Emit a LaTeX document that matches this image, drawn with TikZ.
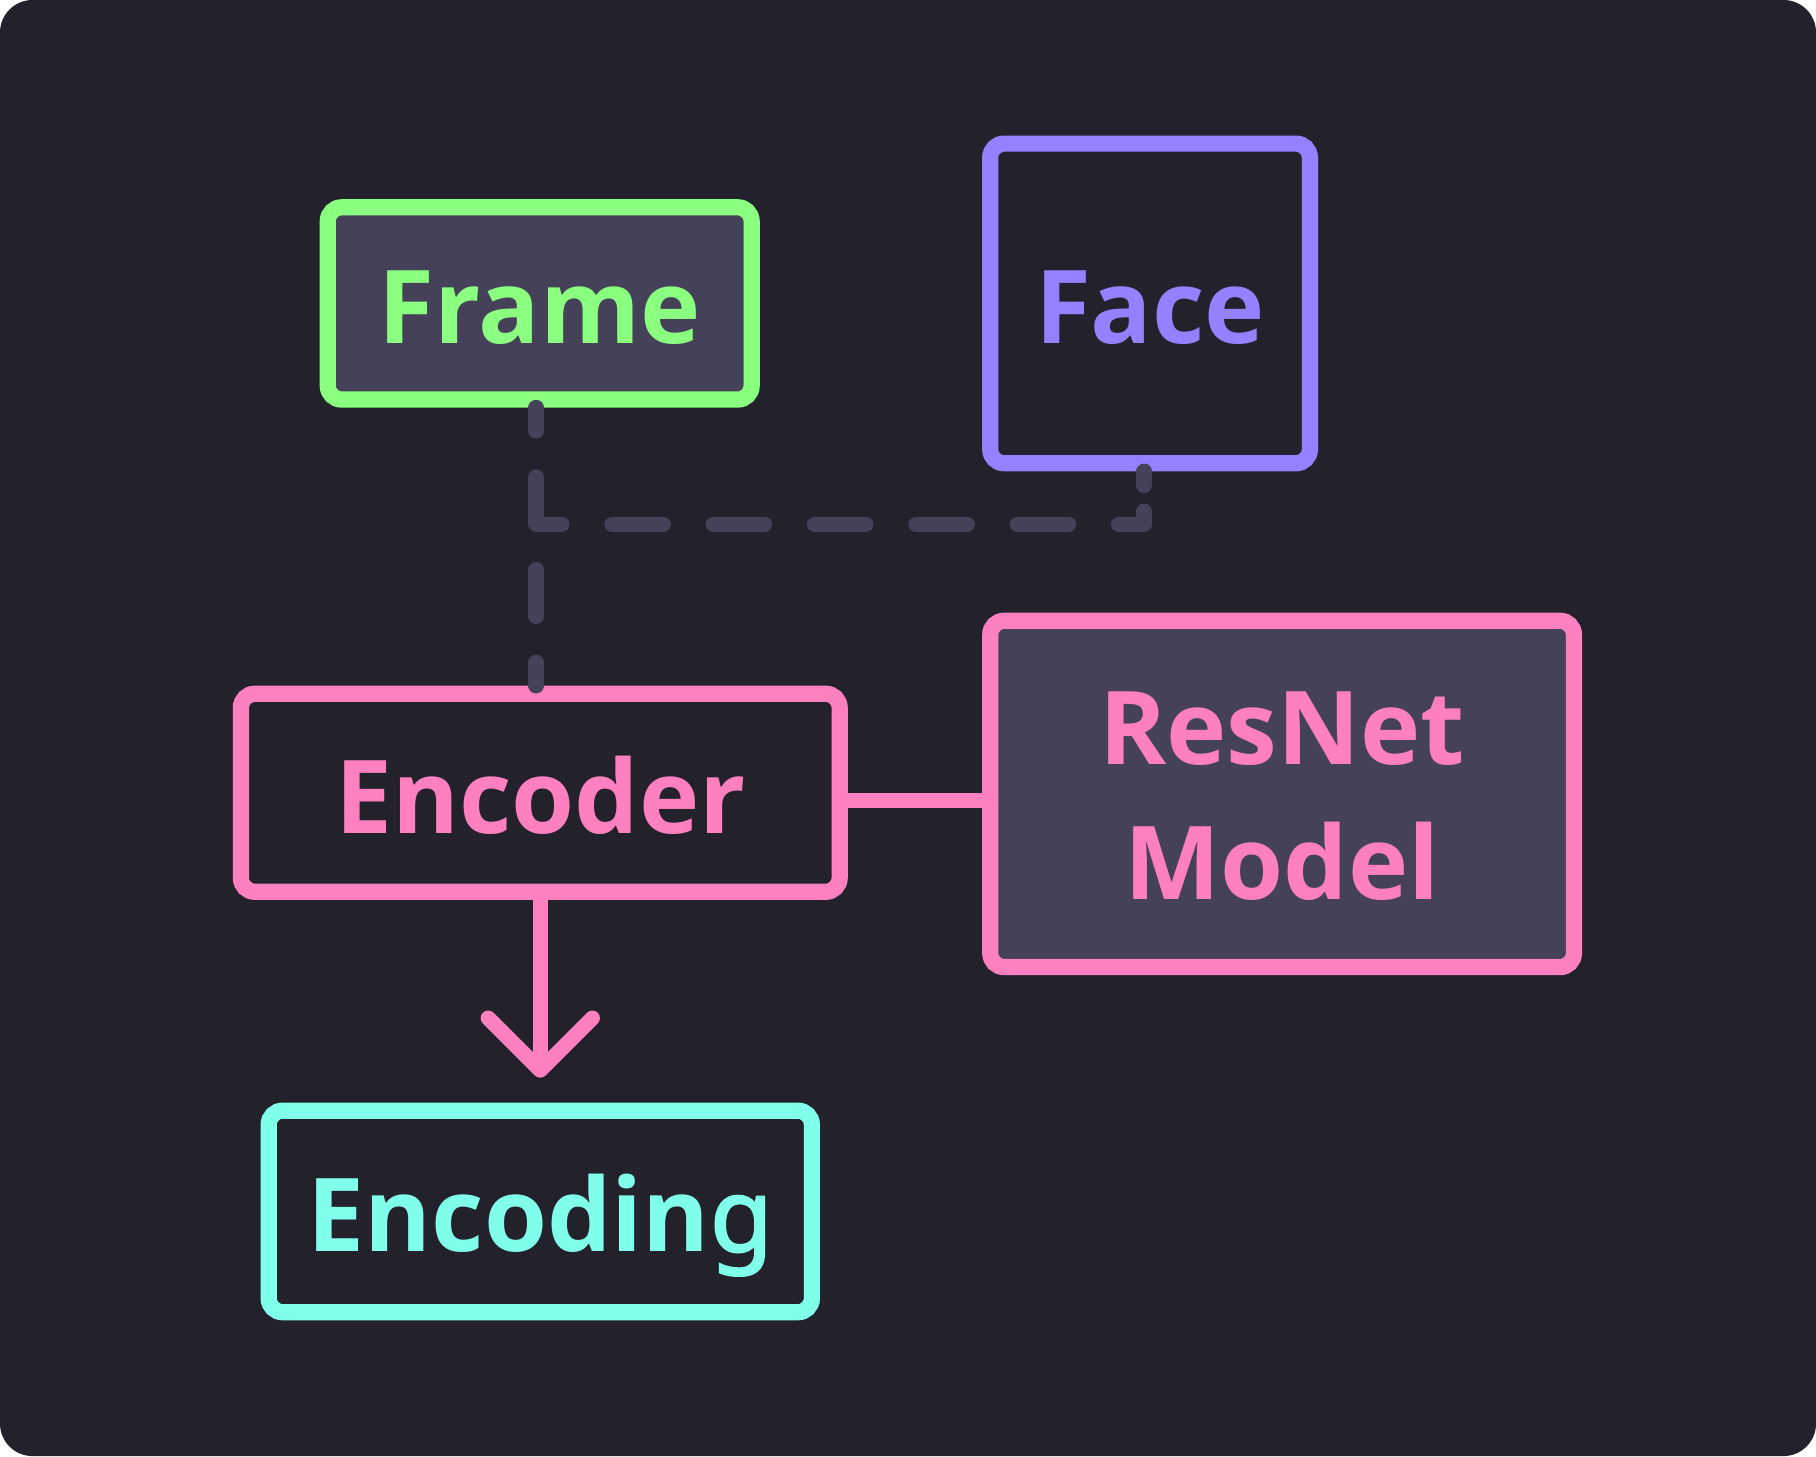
\documentclass[tikz,border=0pt]{standalone}
\usepackage{fontspec}
\setmainfont{Open Sans}[BoldFont={Open Sans Bold}]
\newfontfamily\gfont{Noto Sans}[FakeBold=2.2]
\definecolor{bg}{HTML}{22212C}
\definecolor{boxfill}{HTML}{454158}
\definecolor{cgreen}{HTML}{8AFF80}
\definecolor{cpurple}{HTML}{9580FF}
\definecolor{cpink}{HTML}{FF80BF}
\definecolor{ccyan}{HTML}{80FFEA}
\begin{document}
\begin{tikzpicture}[x=1pt,y=-1pt,
  box/.style={draw, line width=14pt, rounded corners=12pt, inner sep=0pt,
    text height=69pt, text depth=0pt, align=center,
    font=\fontsize{88}{117}\selectfont\bfseries},
  dashline/.style={draw=boxfill, line width=13.5pt, line cap=round, line join=round},
  link/.style={draw=cpink, line width=13pt, line cap=round, line join=round}]
\useasboundingbox (0,0) rectangle (1568,1257.2);
\fill[white] (0,0) rectangle (1568,1257.2);
\fill[bg, rounded corners=28pt] (0,0) rectangle (1568,1257.2);

\node[box, draw=cgreen, fill=boxfill, text=cgreen, minimum width=366pt, minimum height=166pt] (frame) at (466,262) {Frame};
\node[box, draw=cpurple, fill=bg, text=cpurple, minimum width=276pt, minimum height=276pt] (face) at (993,262) {Face};
\node[box, draw=cpink, fill=bg, text=cpink, minimum width=517pt, minimum height=171pt, text height=71pt] (encoder) at (466.5,684.5) {Encoder};
\node[box, draw=cpink, fill=boxfill, text=cpink, minimum width=504pt, minimum height=299pt, text height=183pt] (resnet) at (1107,685.5) {ResNet\\Model};
\node[box, draw=ccyan, fill=bg, text=ccyan, minimum width=469pt, minimum height=174pt] (encoding) at (466.5,1046) {Encodin{\gfont g}};

\coordinate (j) at (463,452.8);
\draw[dashline, dash pattern=on 40pt off 40pt, dash phase=20pt] ([xshift=-3pt]frame.south) -- ([xshift=-3.5pt]encoder.north);
\draw[dashline, dash pattern=on 12pt off 22.4pt on 33.4pt off 43.5pt on 44pt off 43.5pt on 44pt off 43.5pt on 44pt off 43.5pt on 44pt off 43.5pt on 44pt off 43.5pt on 60pt off 10pt] ([xshift=-5pt]face.south) |- (j);

\draw[link, line cap=butt] ([yshift=-7pt]encoder.east) -- ([yshift=-7pt]encoder.east -| resnet.west);
\coordinate (tip) at ([yshift=-147pt]encoder.south);
\draw[link, line cap=butt] (encoder.south) -- (tip);
\draw[link] ([shift={(-45,-45)}]tip) -- (tip) -- ([shift={(45,-45)}]tip);
\end{tikzpicture}
\end{document}
